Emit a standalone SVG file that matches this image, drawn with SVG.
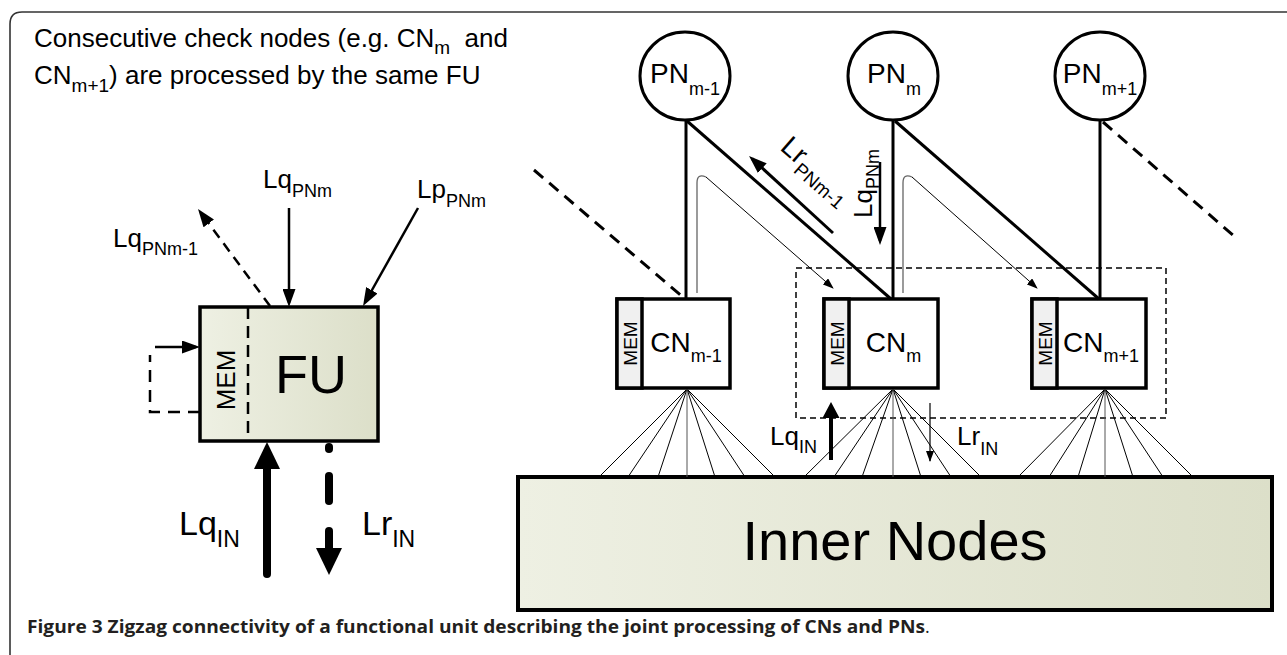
<svg xmlns="http://www.w3.org/2000/svg" width="1287" height="655" viewBox="0 0 1287 655">
<style>
.t{font-family:"Liberation Sans",Arial,sans-serif;fill:#000}
.box{stroke:#000;stroke-width:3.5}
.ln{stroke:#000;stroke-width:3;fill:none}
.ar{stroke:#000;stroke-width:2.5;fill:none}
.thin{stroke:#000;stroke-width:1;fill:none}
.fan{stroke:#000;stroke-width:1;fill:none}
.dsh{stroke:#000;stroke-width:3;fill:none;stroke-dasharray:12 8}
</style>
<defs>
<linearGradient id="g" x1="0" y1="0" x2="1" y2="0">
<stop offset="0" stop-color="#eef0e3"/>
<stop offset="1" stop-color="#dcdfc9"/>
</linearGradient>
<marker id="ah" markerUnits="userSpaceOnUse" markerWidth="18" markerHeight="13" refX="14" refY="6.5" orient="auto"><path d="M0,0 L18,6.5 L0,13 Z" fill="#000"/></marker>
<marker id="ahs" markerUnits="userSpaceOnUse" markerWidth="11" markerHeight="8" refX="10" refY="4" orient="auto"><path d="M0,0 L11,4 L0,8 Z" fill="#000"/></marker>
<marker id="ahm" markerUnits="userSpaceOnUse" markerWidth="16" markerHeight="17" refX="12" refY="8.5" orient="auto"><path d="M0,0 L16,8.5 L0,17 Z" fill="#000"/></marker>
</defs>
<rect width="1287" height="655" fill="#fff"/>
<path id="frame" d="M10,655 V24 Q10,12 22,12 H1287" fill="none" stroke="#333" stroke-width="1.6"/>

<g id="note" class="t" font-size="26">
<text x="34" y="47">Consecutive check nodes (e.g. CN<tspan font-size="19" dy="7">m</tspan><tspan dy="-7" xml:space="preserve">  and</tspan></text>
<text x="34" y="84">CN<tspan font-size="19" dy="8">m+1</tspan><tspan dy="-8">) are processed by the same FU</tspan></text>
</g>

<g id="FU">
<rect x="200" y="307" width="178" height="134" fill="url(#g)" class="box"/>
<line x1="248" y1="307" x2="248" y2="441" stroke="#000" stroke-width="2.5" stroke-dasharray="12 7"/>
<text class="t" font-size="26" text-anchor="middle" transform="translate(235,380) rotate(-90)">MEM</text>
<text class="t" font-size="54" x="311" y="393" text-anchor="middle">FU</text>
</g>

<g id="PN_m-1">
<ellipse cx="685" cy="76" rx="45" ry="44" fill="#fff" class="ln"/>
<text class="t" font-size="28" x="685" y="83" text-anchor="middle">PN<tspan font-size="18" dy="12">m-1</tspan></text>
</g>
<g id="PN_m">
<ellipse cx="893" cy="76" rx="45" ry="44" fill="#fff" class="ln"/>
<text class="t" font-size="28" x="894" y="83" text-anchor="middle">PN<tspan font-size="18" dy="12">m</tspan></text>
</g>
<g id="PN_m+1">
<ellipse cx="1100" cy="76" rx="45" ry="44" fill="#fff" class="ln"/>
<text class="t" font-size="28" x="1100" y="83" text-anchor="middle">PN<tspan font-size="18" dy="12">m+1</tspan></text>
</g>

<g id="CN_m-1">
<rect x="617" y="299" width="113" height="89" fill="#fff" class="box"/>
<rect x="617" y="299" width="25" height="89" fill="#f0f0f0" class="box"/>
<text class="t" font-size="19" text-anchor="middle" transform="translate(636.5,343.5) rotate(-90)">MEM</text>
<text class="t" font-size="28" x="686" y="352" text-anchor="middle">CN<tspan font-size="18" dy="10">m-1</tspan></text>
</g>
<g id="CN_m">
<rect x="824" y="299" width="114" height="89" fill="#fff" class="box"/>
<rect x="824" y="299" width="25" height="89" fill="#f0f0f0" class="box"/>
<text class="t" font-size="19" text-anchor="middle" transform="translate(843.5,343.5) rotate(-90)">MEM</text>
<text class="t" font-size="28" x="893.5" y="352" text-anchor="middle">CN<tspan font-size="18" dy="10">m</tspan></text>
</g>
<g id="CN_m+1">
<rect x="1032" y="299" width="114" height="89" fill="#fff" class="box"/>
<rect x="1032" y="299" width="25" height="89" fill="#f0f0f0" class="box"/>
<text class="t" font-size="19" text-anchor="middle" transform="translate(1051.5,343.5) rotate(-90)">MEM</text>
<text class="t" font-size="28" x="1101" y="352" text-anchor="middle">CN<tspan font-size="18" dy="10">m+1</tspan></text>
</g>

<g id="inner-nodes">
<rect x="518" y="477" width="754" height="133" fill="url(#g)" stroke="#000" stroke-width="4"/>
<text class="t" font-size="56" x="895" y="560" text-anchor="middle">Inner Nodes</text>
</g>

<g id="group-box">
<rect x="796" y="268" width="370" height="150" fill="none" stroke="#000" stroke-width="1.5" stroke-dasharray="6 4"/>
</g>

<g id="connectors">
<line class="ar" x1="289" y1="208" x2="289" y2="303" marker-end="url(#ah)"/>
<line class="ar" x1="418" y1="208" x2="365" y2="302.5" marker-end="url(#ah)"/>
<line class="ar" x1="270" y1="306" x2="200.4" y2="212.2" stroke-dasharray="10 7" marker-end="url(#ah)"/>
<line class="ar" x1="155" y1="347" x2="196" y2="347" marker-end="url(#ah)"/>
<path class="ar" d="M200,412 H150 V355" stroke-dasharray="12 8"/>
<line x1="267" y1="574" x2="267" y2="466" stroke="#000" stroke-width="8" stroke-linecap="round"/>
<polygon points="254,469 267,442 280,469" fill="#000"/>
<g stroke="#000" stroke-width="8" stroke-linecap="round">
<line x1="329" y1="447" x2="329" y2="449"/>
<line x1="329" y1="476" x2="329" y2="501"/>
<line x1="329" y1="531" x2="329" y2="550"/>
</g>
<polygon points="316,548 342,548 329,575" fill="#000"/>

<line class="ln" x1="686" y1="120" x2="686" y2="299"/>
<line class="ln" x1="687" y1="121" x2="891" y2="299"/>
<line class="ln" x1="893" y1="120" x2="893" y2="299"/>
<line class="ln" x1="895" y1="121" x2="1099" y2="299"/>
<line class="ln" x1="1100" y1="120" x2="1100" y2="299"/>
<line class="dsh" x1="534" y1="170" x2="684" y2="298"/>
<line class="dsh" x1="1103" y1="122" x2="1235" y2="237"/>

<path d="M697,293 V183 Q697,173 706,177" fill="none" stroke="#666" stroke-width="1.3"/>
<path class="thin" d="M706,177 L833,288" marker-end="url(#ahs)"/>
<path d="M903,293 V183 Q903,173 912,177" fill="none" stroke="#666" stroke-width="1.3"/>
<path class="thin" d="M912,177 L1037,288" marker-end="url(#ahs)"/>

<line x1="833" y1="233" x2="752" y2="158.7" stroke="#000" stroke-width="3" marker-end="url(#ah)"/>
<line class="ar" x1="880" y1="162" x2="880" y2="241" marker-end="url(#ah)"/>
<line x1="831" y1="460" x2="831" y2="406" stroke="#000" stroke-width="4" marker-end="url(#ahm)"/>
<line x1="930" y1="403" x2="930" y2="461" stroke="#000" stroke-width="1.2" marker-end="url(#ahs)"/>

<g class="fan">
<path d="M687,389 L599,477 M687,389 L628,477 M687,389 L658,477 M715,477 L687,389 L745,477 M687,389 L775,477"/>
<path d="M893,389 L804,477 M893,389 L834,477 M893,389 L862,477 M921,477 L893,389 L951,477 M893,389 L981,477"/>
<path d="M1105,389 L1018,477 M1105,389 L1049,477 M1105,389 L1078,477 M1133,477 L1105,389 L1163,477 M1105,389 L1193,477"/>
</g>
<g stroke="#555" stroke-width="1">
<line x1="687" y1="389" x2="687" y2="477"/>
<line x1="893" y1="389" x2="893" y2="477"/>
<line x1="1105" y1="389" x2="1105" y2="477"/>
</g>
</g>

<g id="labels" class="t">
<text font-size="26" x="263" y="188">Lq<tspan font-size="18" dy="9">PNm</tspan></text>
<text font-size="26" x="417" y="198">Lp<tspan font-size="18" dy="9">PNm</tspan></text>
<text font-size="26" x="113" y="247">Lq<tspan font-size="18" dy="8">PNm-1</tspan></text>
<text font-size="34" x="179" y="535">Lq<tspan font-size="23" dy="12">IN</tspan></text>
<text font-size="34" x="362" y="535">Lr<tspan font-size="23" dy="12">IN</tspan></text>
<text font-size="28" transform="translate(779,149) rotate(41)">Lr<tspan font-size="19" dy="8">PNm-1</tspan></text>
<text font-size="26" transform="translate(872,218) rotate(-90)">Lq<tspan font-size="18" dy="7">PNm</tspan></text>
<text font-size="26" x="770" y="445">Lq<tspan font-size="18" dy="8">IN</tspan></text>
<text font-size="26" x="957" y="445">Lr<tspan font-size="18" dy="10">IN</tspan></text>
</g>

<g id="caption">
<text x="27" y="633" font-family="'Open Sans','DejaVu Sans',sans-serif" font-size="18" font-weight="bold" fill="#231f20" textLength="898" lengthAdjust="spacingAndGlyphs">Figure 3 Zigzag connectivity of a functional unit describing the joint processing of CNs and PNs</text>
<text x="925" y="633" font-family="'Open Sans','DejaVu Sans',sans-serif" font-size="18" fill="#231f20">.</text>
</g>
</svg>
